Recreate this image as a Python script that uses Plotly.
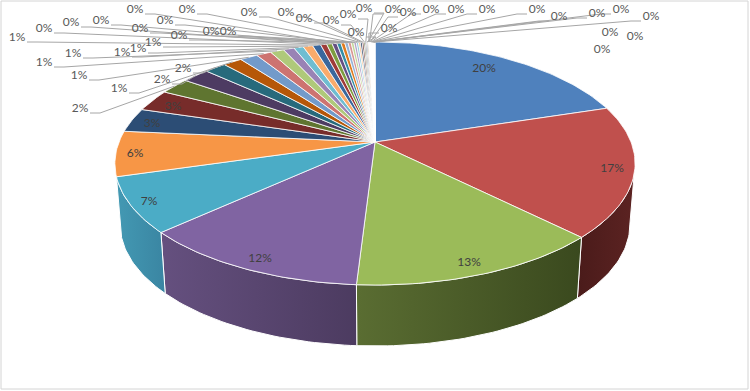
import math
import plotly.graph_objects as go

# ---- data (percent of total, clockwise from 12 o'clock) ----
values = [20.1, 17.4, 13.4, 12.2, 7.3, 6.0, 3.2, 2.9, 2.2, 2.0, 1.6,
          1.4, 1.3, 1.1, 1.0, 0.8, 0.7, 0.7, 0.6,
          0.45, 0.4, 0.35, 0.3, 0.28, 0.25, 0.22, 0.2, 0.18, 0.16, 0.14, 0.13,
          0.12, 0.1, 0.09, 0.08, 0.07, 0.06, 0.05, 0.05, 0.05, 0.04, 0.04, 0.04,
          0.03, 0.03, 0.03, 0.02, 0.02, 0.01, 0.01]

# ---- styling ----
palette = ["#4F81BD", "#C0504D", "#9BBB59", "#8064A2", "#4BACC6", "#F79646",
           "#2C4D75", "#772C2A", "#5F7530", "#4D3B62", "#276A7C", "#B65708",
           "#729ACA", "#CD7371", "#AFC97A", "#9983B5", "#6FBDD1", "#F9AB6B",
           "#3A679C", "#9F3B38", "#7E9D40", "#664F83", "#358EA6", "#E07B1E",
           "#95B3D7", "#D99694", "#C3D69B", "#B3A2C7", "#93CDDD", "#FAC08F",
           "#254061", "#632523", "#4F6228", "#403151", "#215968", "#974806",
           "#B9CDE5", "#E6B9B8", "#D7E4BD", "#CCC1DA", "#B7DEE8", "#FCD5B5",
           "#8EB4E3", "#E6A09E", "#BFD98F", "#AC94C8", "#88D0E2", "#FDB97F",
           "#C6D9F1", "#F2DCDB"]
wall_gradient = {1: ("#4A1B1A", "#5C2322"),
                 2: ("#5A6D32", "#3A491E"),
                 3: ("#65507F", "#4C3B60"),
                 4: ("#4399B3", "#3A85A2")}

# layout of the labels: (x, y, has leader) in slice order
label_layout = [(484, 68, 0), (612, 168, 0), (469, 262, 0), (260, 258, 0), (149, 201, 0), (135, 153, 0),
                (152, 123, 0), (173, 106, 0),
                (80, 108, 1), (162, 79, 1), (183, 68, 1),
                (119, 88, 1), (79, 75, 1), (44, 62, 1), (73, 53, 1), (122, 52, 1), (138, 48, 1), (153, 42, 1), (17, 37, 1),
                (44, 28, 1), (71, 22, 1), (101, 20, 1), (135, 9, 1), (140, 28, 1), (165, 20, 1), (179, 35, 1),
                (187, 9, 1), (211, 31, 1), (228, 31, 1), (249, 12, 1), (286, 12, 1), (304, 18, 1), (331, 20, 1),
                (348, 14, 1), (356, 32, 1), (364, 8, 1), (389, 28, 1), (393, 9, 1), (408, 12, 1), (431, 9, 1),
                (456, 9, 1), (487, 9, 1), (537, 9, 1), (559, 16, 1), (597, 13, 1), (621, 9, 1), (651, 16, 1),
                (602, 49, 0), (610, 32, 0), (635, 36, 0)]

# ---- perspective projection of the tilted disc ----
CX, CY, A, B, P, DEPTH, SHRINK = 375, 142, 256, 117.7, 0.177, 61, 0.98


def top(theta):
    u, v = math.sin(theta), math.cos(theta)
    w = 1 + P * v
    return CX + A * u / w, CY - B * v / w


def bottom(theta):
    x, y = top(theta)
    return CX + (x - CX) * SHRINK, y + DEPTH


def arc(fn, t0, t1):
    n = max(2, int(abs(t1 - t0) / 0.02) + 1)
    return [fn(t0 + (t1 - t0) * i / (n - 1)) for i in range(n)]


total = sum(values)
angles = [0.0]
for v in values:
    angles.append(angles[-1] + v / total * 2 * math.pi)

fig = go.Figure()
WALL_START, WALL_END = math.radians(100), math.radians(262)

# side walls
for i, (left, right) in wall_gradient.items():
    t0 = max(angles[i], WALL_START)
    t1 = min(angles[i + 1], WALL_END)
    pts = arc(top, t0, t1) + arc(bottom, t1, t0)
    pts.append(pts[0])
    fig.add_trace(go.Scatter(
        x=[p[0] for p in pts], y=[p[1] for p in pts], mode="lines", fill="toself",
        line=dict(color="white", width=1),
        fillgradient=dict(type="horizontal", colorscale=[[0, left], [1, right]]),
        hoverinfo="skip"))

# top faces
for i, v in enumerate(values):
    pts = [(CX, CY)] + arc(top, angles[i], angles[i + 1]) + [(CX, CY)]
    fig.add_trace(go.Scatter(
        x=[p[0] for p in pts], y=[p[1] for p in pts], mode="lines", fill="toself",
        fillcolor=palette[i], line=dict(color="white", width=0.8),
        hoverinfo="skip"))

# leader lines
lead_x, lead_y = [], []
for i, (lx, ly, has) in enumerate(label_layout):
    if not has:
        continue
    tx, ty = top((angles[i] + angles[i + 1]) / 2)
    side = 1 if lx < tx else -1
    lead_x += [lx + side * 10, lx + side * 20, tx, None]
    lead_y += [ly + 5, ly + 5, ty, None]
fig.add_trace(go.Scatter(x=lead_x, y=lead_y, mode="lines",
                         line=dict(color="#A6A6A6", width=1), hoverinfo="skip"))

# labels
fig.add_trace(go.Scatter(
    x=[p[0] for p in label_layout], y=[p[1] + 1 for p in label_layout], mode="text",
    text=[f"{round(v)}%" for v in values], textposition="middle center",
    textfont=dict(family="Lato, Carlito, sans-serif", size=12,
                  color=["#404040" if i < 8 else "#595959" for i in range(len(values))]),
    hoverinfo="skip"))

fig.update_layout(
    width=750, height=391, margin=dict(l=0, r=0, t=0, b=0),
    paper_bgcolor="white", plot_bgcolor="white", showlegend=False,
    xaxis=dict(range=[0, 750], visible=False, fixedrange=True),
    yaxis=dict(range=[391, 0], visible=False, fixedrange=True),
    shapes=[dict(type="rect", xref="x", yref="y", x0=1, y0=1, x1=748, y1=389,
                 line=dict(color="#D4D4D4", width=1))])
fig.write_html("out.html", config=dict(displayModeBar=False),
               post_script="document.body.style.margin='0';document.body.style.overflow='hidden';")
